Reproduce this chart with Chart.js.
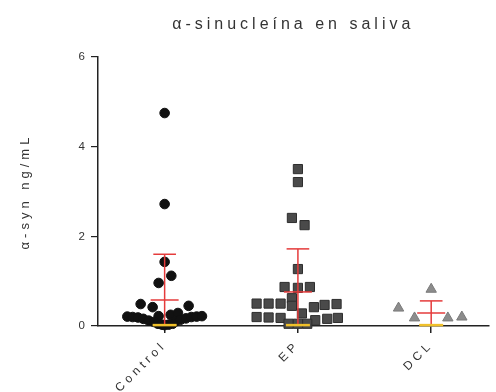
<!DOCTYPE html>
<html>
<head>
<meta charset="utf-8">
<script src="https://cdn.jsdelivr.net/npm/chart.js@4"></script>
<style>
  html, body { margin: 0; padding: 0; background: #fff; }
</style>
</head>
<body>
<canvas id="myChart" width="496" height="392"></canvas>
<script>
(function () {
    'use strict'

    // groups on the x axis
    var categories = ['Control', 'EP', 'DCL']
    var yTicks = [0, 2, 4, 6]

    // values (ng/mL) and horizontal scatter offsets
    var controlValues = [4.75, 2.72, 1.43, 1.12, 0.96, 0.49, 0.42, 0.45, 0.22, 0.25, 0.29,
        0.21, 0.20, 0.19, 0.16, 0.12, 0.09,
        0.10, 0.14, 0.17, 0.20, 0.21, 0.22,
        0.05, 0.03, 0.02, 0.03, 0.05]
    var controlOffsets = [0, 0, 0, 0.05, -0.045, -0.18, -0.09, 0.18, -0.045, 0.045, 0.1,
        -0.28, -0.24, -0.2, -0.16, -0.12, -0.08,
        0.08, 0.12, 0.16, 0.2, 0.24, 0.28,
        -0.05, -0.02, 0, 0.03, 0.06]

    var epValues = [3.5, 3.21, 2.41, 2.25, 1.27, 0.87, 0.85, 0.87, 0.62, 0.45,
        0.5, 0.5, 0.5, 0.42, 0.47, 0.49, 0.28,
        0.2, 0.19, 0.18, 0.13, 0.16, 0.18,
        0.05, 0.05, 0.05]
    var epOffsets = [0, 0, -0.045, 0.05, 0, -0.1, 0, 0.09, -0.045, -0.045,
        -0.31, -0.22, -0.13, 0.12, 0.2, 0.29, 0.03,
        -0.31, -0.22, -0.13, 0.13, 0.22, 0.3,
        -0.07, 0, 0.07]

    var dclValues = [0.82, 0.4, 0.18, 0.18, 0.2]
    var dclOffsets = [0, -0.245, -0.125, 0.125, 0.23]

    // summary lines drawn over each group
    var means = [0.58, 0.76, 0.29]
    var sds = [1.02, 0.96, 0.27]
    var medians = [0.02, 0.02, 0.02]

    Chart.defaults.font.family = "'Liberation Sans', Arial, sans-serif"
    Chart.defaults.color = '#333'

    function points(values, offsets, group) {
        return values.map(function (v, i) {
            return { x: group + offsets[i], y: v }
        })
    }

    var spacing = {
        id: 'spacing',
        beforeDraw: function (chart) {
            chart.ctx.letterSpacing = '4px'
        }
    }

    var errorBars = {
        id: 'errorBars',
        afterDatasetsDraw: function (chart) {
            var ctx = chart.ctx
            var x = chart.scales.x
            var y = chart.scales.y
            function seg(x1, y1, x2, y2) {
                ctx.beginPath()
                ctx.moveTo(x.getPixelForValue(x1), y.getPixelForValue(y1))
                ctx.lineTo(x.getPixelForValue(x2), y.getPixelForValue(y2))
                ctx.stroke()
            }
            ctx.save()
            categories.forEach(function (name, i) {
                var top = means[i] + sds[i]
                var low = Math.max(0, means[i] - sds[i])
                ctx.strokeStyle = '#e53b3b'
                ctx.lineWidth = 1.5
                seg(i, 0, i, top)
                seg(i - 0.085, top, i + 0.085, top)
                seg(i - 0.105, means[i], i + 0.105, means[i])
                if (low > 0) seg(i - 0.085, low, i + 0.085, low)
                ctx.strokeStyle = '#f0c02a'
                ctx.lineWidth = 2.5
                seg(i - 0.09, medians[i], i + 0.09, medians[i])
            })
            ctx.restore()
        }
    }

    var ctx = document.getElementById('myChart')
    // eslint-disable-next-line no-unused-vars
    var myChart = new Chart(ctx, {
        type: 'scatter',
        data: {
            datasets: [{
                label: categories[0],
                data: points(controlValues, controlOffsets, 0),
                pointStyle: 'circle',
                pointRadius: 4.8,
                backgroundColor: '#111',
                borderColor: '#111',
                borderWidth: 1,
                clip: false
            }, {
                label: categories[1],
                data: points(epValues, epOffsets, 1),
                pointStyle: 'rect',
                pointRadius: 6.5,
                backgroundColor: '#4a4a4a',
                borderColor: '#2e2e2e',
                borderWidth: 1,
                clip: false
            }, {
                label: categories[2],
                data: points(dclValues, dclOffsets, 2),
                pointStyle: 'triangle',
                pointRadius: 6,
                backgroundColor: '#8c8c8c',
                borderColor: '#7a7a7a',
                borderWidth: 1,
                clip: false
            }]
        },
        options: {
            responsive: false,
            animation: false,
            layout: { padding: { left: 0, right: 6, top: 0, bottom: 0 } },
            plugins: {
                legend: { display: false },
                tooltip: { enabled: false },
                title: {
                    display: true,
                    fullSize: false,
                    text: 'α-sinucleína en saliva',
                    color: '#333',
                    font: { size: 16, weight: 'normal' },
                    padding: { top: 15, bottom: 22.8 }
                }
            },
            scales: {
                x: {
                    type: 'linear',
                    min: -0.5,
                    max: 2.43,
                    afterBuildTicks: function (scale) {
                        scale.ticks = categories.map(function (c, i) { return { value: i } })
                    },
                    afterFit: function (scale) { scale.height = 66 },
                    ticks: {
                        minRotation: 45,
                        maxRotation: 45,
                        padding: 5,
                        color: '#333',
                        font: { size: 12 },
                        callback: function (v) { return categories[v] }
                    },
                    grid: { drawOnChartArea: false, tickLength: 7, color: '#222', lineWidth: 1.5 },
                    border: { color: '#222', width: 1.5 }
                },
                y: {
                    min: 0,
                    max: 6,
                    afterBuildTicks: function (scale) {
                        scale.ticks = yTicks.map(function (v) { return { value: v } })
                    },
                    afterFit: function (scale) { scale.width = 98 },
                    ticks: { padding: 2, color: '#333', font: { size: 11.5 } },
                    grid: { drawOnChartArea: false, tickLength: 7, color: '#222', lineWidth: 1.2 },
                    border: { color: '#222', width: 1.5 },
                    title: {
                        display: true,
                        text: 'α-syn ng/mL',
                        color: '#333',
                        font: { size: 13 },
                        padding: { top: 18, bottom: 0 }
                    }
                }
            }
        },
        plugins: [spacing, errorBars]
    })
})()
</script>
</body>
</html>
